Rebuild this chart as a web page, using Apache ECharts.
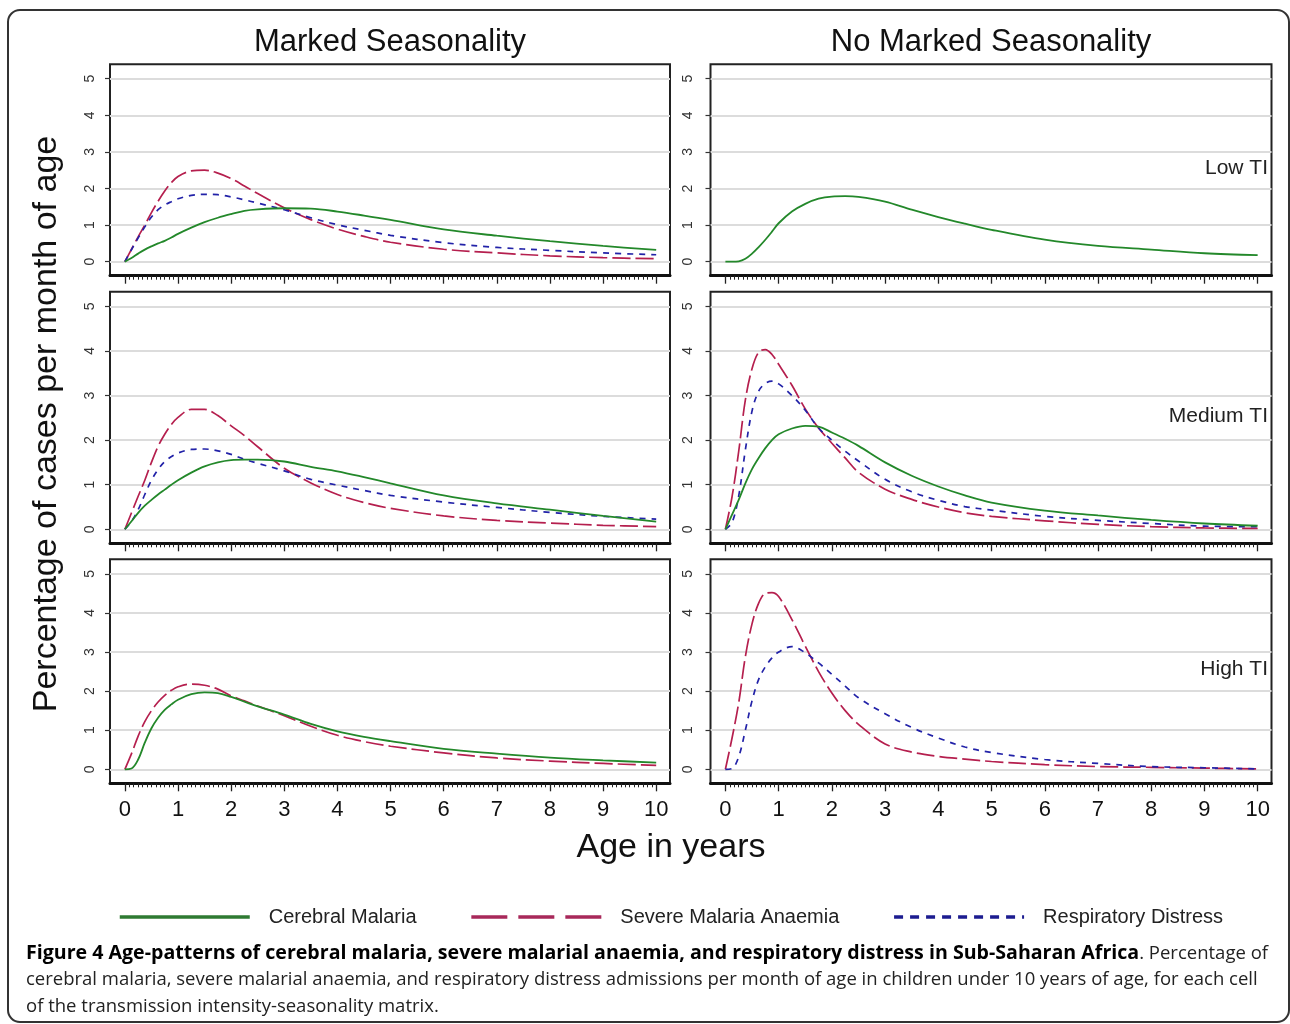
<!DOCTYPE html>
<html>
<head>
<meta charset="utf-8">
<script src="https://cdn.jsdelivr.net/npm/echarts@6/dist/echarts.min.js"></script>
<style>
  html, body { margin: 0; padding: 0; background: #fff; }
  #chart { width: 1290px; height: 1024px; }
</style>
</head>
<body>
<div id="chart"></div>
<script>
// ---------- data ----------
const ages = [0, 0.125, 0.25, 0.375, 0.5, 0.625, 0.75, 0.875, 1, 1.25, 1.5, 1.75, 2, 2.25, 2.5, 3, 3.5, 4, 4.5, 5, 6, 7, 8, 9, 10];

const cmMarkedLow  = [0, 0.1, 0.22, 0.33, 0.42, 0.5, 0.57, 0.66, 0.76, 0.93, 1.08, 1.2, 1.3, 1.39, 1.43, 1.46, 1.45, 1.37, 1.26, 1.14, 0.88, 0.71, 0.56, 0.43, 0.32];
const smaMarkedLow = [0, 0.34, 0.68, 1.0, 1.34, 1.65, 1.93, 2.16, 2.33, 2.48, 2.5, 2.42, 2.27, 2.07, 1.86, 1.47, 1.15, 0.89, 0.69, 0.53, 0.34, 0.24, 0.16, 0.11, 0.08];
const rdMarkedLow  = [0, 0.33, 0.65, 0.95, 1.22, 1.42, 1.55, 1.64, 1.72, 1.81, 1.84, 1.83, 1.77, 1.69, 1.6, 1.42, 1.2, 1.01, 0.86, 0.72, 0.52, 0.39, 0.31, 0.24, 0.19];
const cmNoneLow    = [0, 0, 0.01, 0.08, 0.22, 0.4, 0.6, 0.82, 1.05, 1.37, 1.58, 1.72, 1.78, 1.79, 1.77, 1.64, 1.42, 1.22, 1.04, 0.87, 0.6, 0.43, 0.33, 0.23, 0.18];

const cmMarkedMed  = [0, 0.18, 0.37, 0.53, 0.66, 0.78, 0.89, 1.0, 1.1, 1.27, 1.41, 1.5, 1.55, 1.56, 1.56, 1.52, 1.4, 1.3, 1.17, 1.03, 0.76, 0.58, 0.44, 0.3, 0.17];
const smaMarkedMed = [0, 0.37, 0.74, 1.1, 1.5, 1.86, 2.13, 2.35, 2.51, 2.69, 2.69, 2.55, 2.32, 2.1, 1.85, 1.37, 1.04, 0.78, 0.6, 0.47, 0.3, 0.2, 0.14, 0.09, 0.06];
const rdMarkedMed  = [0, 0.18, 0.44, 0.78, 1.1, 1.34, 1.52, 1.63, 1.71, 1.79, 1.8, 1.76, 1.68, 1.57, 1.48, 1.31, 1.12, 0.99, 0.87, 0.76, 0.61, 0.49, 0.38, 0.29, 0.23];
const cmNoneMed    = [0, 0.33, 0.66, 1.03, 1.35, 1.6, 1.82, 2.0, 2.13, 2.26, 2.32, 2.3, 2.17, 2.03, 1.87, 1.5, 1.2, 0.96, 0.76, 0.6, 0.42, 0.31, 0.21, 0.13, 0.08];
const smaNoneMed   = [0, 0.73, 1.75, 2.9, 3.6, 3.97, 4.03, 3.92, 3.7, 3.23, 2.7, 2.27, 1.93, 1.6, 1.28, 0.9, 0.67, 0.5, 0.37, 0.29, 0.19, 0.11, 0.06, 0.03, 0.02];
const rdNoneMed    = [0, 0.15, 0.75, 1.78, 2.65, 3.1, 3.27, 3.32, 3.26, 3.0, 2.67, 2.27, 2.0, 1.75, 1.53, 1.12, 0.84, 0.65, 0.51, 0.43, 0.29, 0.2, 0.13, 0.07, 0.06];

const cmMarkedHigh  = [0, 0.02, 0.25, 0.68, 1.05, 1.32, 1.52, 1.66, 1.78, 1.92, 1.97, 1.95, 1.85, 1.73, 1.61, 1.4, 1.16, 0.97, 0.83, 0.72, 0.52, 0.4, 0.3, 0.23, 0.17];
const smaMarkedHigh = [0, 0.4, 0.85, 1.22, 1.5, 1.72, 1.89, 2.02, 2.11, 2.18, 2.15, 2.05, 1.88, 1.75, 1.62, 1.37, 1.1, 0.87, 0.71, 0.59, 0.42, 0.29, 0.21, 0.15, 0.1];
const smaNoneHigh   = [0, 0.8, 1.7, 2.88, 3.72, 4.25, 4.5, 4.52, 4.42, 3.83, 3.15, 2.5, 1.95, 1.5, 1.15, 0.65, 0.44, 0.33, 0.26, 0.2, 0.12, 0.07, 0.05, 0.03, 0.01];
const rdNoneHigh    = [0, 0.02, 0.32, 1.0, 1.75, 2.3, 2.62, 2.85, 3.0, 3.14, 2.98, 2.72, 2.43, 2.13, 1.83, 1.42, 1.07, 0.8, 0.57, 0.43, 0.25, 0.15, 0.07, 0.04, 0.01];

const xTickValues = [0, 1, 2, 3, 4, 5, 6, 7, 8, 9, 10];
const yTickValues = [0, 1, 2, 3, 4, 5];
const columnTitles = ['Marked Seasonality', 'No Marked Seasonality'];
const rowTitles = ['Low TI', 'Medium TI', 'High TI'];
const seriesNames = ['Cerebral Malaria', 'Severe Malaria Anaemia', 'Respiratory Distress'];

// ---------- layout / style ----------
const FONT = '"Liberation Sans", Arial, sans-serif';
const colors = { cm: '#23882a', sma: '#b51f4e', rd: '#2222a8' };
const lineStyles = {
  cm:  { color: colors.cm,  width: 1.8, type: 'solid' },
  sma: { color: colors.sma, width: 1.7, type: [18, 5] },
  rd:  { color: colors.rd,  width: 1.7, type: [6, 6] }
};
const nameOf = { cm: seriesNames[0], sma: seriesNames[1], rd: seriesNames[2] };

const colLeft = [110, 710.5];
const colWidth = [560, 561];
const rowTop = [64.3, 291.7, 559.3];
const rowHeight = [211.4, 251.6, 224];
const rowYMin = [-0.383, -0.314, -0.358];
const rowYMax = [5.393, 5.327, 5.371];
const xMin = -0.28, xMax = 10.26;
const labelMarginY = [13, 15.5];

const monthTicks = [];
for (let m = 0; m <= 120; m++) monthTicks.push(m / 12);

// panels: [row, col, [[key, values], ...]]
const panels = [
  [0, 0, [['cm', cmMarkedLow], ['sma', smaMarkedLow], ['rd', rdMarkedLow]]],
  [0, 1, [['cm', cmNoneLow]]],
  [1, 0, [['cm', cmMarkedMed], ['sma', smaMarkedMed], ['rd', rdMarkedMed]]],
  [1, 1, [['cm', cmNoneMed], ['sma', smaNoneMed], ['rd', rdNoneMed]]],
  [2, 0, [['cm', cmMarkedHigh], ['sma', smaMarkedHigh]]],
  [2, 1, [['sma', smaNoneHigh], ['rd', rdNoneHigh]]]
];

const grid = [], xAxis = [], yAxis = [], series = [];
panels.forEach(([r, c, lines], g) => {
  grid.push({
    left: colLeft[c], top: rowTop[r], width: colWidth[c], height: rowHeight[r],
    show: true, borderColor: '#222', borderWidth: 2, backgroundColor: 'transparent'
  });
  // minor (monthly) ticks
  xAxis.push({
    type: 'value', gridIndex: g, min: xMin, max: xMax, position: 'bottom',
    axisLine: { show: false, onZero: false },
    axisTick: { show: true, length: 4, customValues: monthTicks, lineStyle: { color: '#222', width: 1 } },
    axisLabel: { show: false }, splitLine: { show: false }
  });
  // major ticks + labels
  xAxis.push({
    type: 'value', gridIndex: g, min: xMin, max: xMax, position: 'bottom',
    axisLine: { show: true, onZero: false, lineStyle: { color: '#111', width: 3 } },
    axisTick: { show: true, length: 8, customValues: xTickValues, lineStyle: { color: '#222', width: 1.3 } },
    axisLabel: { show: r === 2, customValues: xTickValues, fontSize: 22, fontFamily: FONT, color: '#111', margin: 16 },
    splitLine: { show: false }
  });
  yAxis.push({
    type: 'value', gridIndex: g, min: rowYMin[r], max: rowYMax[r], position: 'left',
    axisLine: { show: false, onZero: false },
    axisTick: { show: true, length: 5, customValues: yTickValues, lineStyle: { color: '#333', width: 1.2 } },
    axisLabel: { show: true, customValues: yTickValues, rotate: 90, fontSize: 14, fontFamily: FONT, color: '#333', margin: labelMarginY[c] },
    splitLine: { show: true, lineStyle: { color: '#dcdcdc', width: 2 } }
  });
  lines.forEach(([key, vals]) => {
    series.push({
      type: 'line', name: nameOf[key], xAxisIndex: 2 * g + 1, yAxisIndex: g,
      data: ages.map((a, i) => [a, vals[i]]),
      symbol: 'none', smooth: 0.35, lineStyle: lineStyles[key], itemStyle: { color: colors[key] },
      silent: true, animation: false, z: key === 'cm' ? 3 : 2
    });
  });
});

const graphic = [
  { type: 'rect', shape: { x: 8, y: 10, width: 1281, height: 1012, r: 12 }, style: { fill: 'none', stroke: '#333', lineWidth: 2 }, silent: true },
  { type: 'text', x: 390, y: 42, style: { text: columnTitles[0], font: '31px ' + FONT, fill: '#111', align: 'center', verticalAlign: 'middle' } },
  { type: 'text', x: 991, y: 42, style: { text: columnTitles[1], font: '31px ' + FONT, fill: '#111', align: 'center', verticalAlign: 'middle' } },
  { type: 'text', x: 1268, y: 168, style: { text: rowTitles[0], font: '21px ' + FONT, fill: '#222', align: 'right', verticalAlign: 'middle' } },
  { type: 'text', x: 1268, y: 416, style: { text: rowTitles[1], font: '21px ' + FONT, fill: '#222', align: 'right', verticalAlign: 'middle' } },
  { type: 'text', x: 1268, y: 669, style: { text: rowTitles[2], font: '21px ' + FONT, fill: '#222', align: 'right', verticalAlign: 'middle' } },
  { type: 'text', x: 47, y: 424, rotation: Math.PI / 2, style: { text: 'Percentage of cases per month of age', font: '34px ' + FONT, fill: '#111', align: 'center', verticalAlign: 'middle' } },
  { type: 'text', x: 671, y: 848, style: { text: 'Age in years', font: '34px ' + FONT, fill: '#111', align: 'center', verticalAlign: 'middle' } },
  { type: 'text', x: 26, y: 940, style: {
      text: '{b|Figure 4 Age-patterns of cerebral malaria, severe malarial anaemia, and respiratory distress in Sub-Saharan Africa}{n|. Percentage of}\n' +
            '{n|cerebral malaria, severe malarial anaemia, and respiratory distress admissions per month of age in children under 10 years of age, for each cell}\n' +
            '{n|of the transmission intensity-seasonality matrix.}',
      align: 'left', verticalAlign: 'top',
      rich: {
        b: { font: 'bold 19.6px "Open Sans", sans-serif', fill: '#000', lineHeight: 26.5 },
        n: { font: '18.5px "Open Sans", sans-serif', fill: '#222', lineHeight: 26.5 }
      }
  } }
];

const option = {
  animation: false,
  backgroundColor: '#fff',
  grid, xAxis, yAxis, series, graphic,
  legend: {
    left: 118, top: 907, padding: 0, itemWidth: 130, itemHeight: 18, itemGap: 53,
    selectedMode: false,
    textStyle: { fontSize: 20, fontFamily: FONT, color: '#222', padding: [0, 0, 0, 14] },
    data: [
      { name: seriesNames[0], itemStyle: { opacity: 0 }, lineStyle: { width: 3.5, type: 'solid', color: '#2e7a32' } },
      { name: seriesNames[1], itemStyle: { opacity: 0 }, lineStyle: { width: 3.5, type: [36, 11], color: '#a8285a' } },
      { name: seriesNames[2], itemStyle: { opacity: 0 }, lineStyle: { width: 3.5, type: [9, 7], color: '#1c1c90' } }
    ]
  }
};

const chart = echarts.init(document.getElementById('chart'), null, { renderer: 'canvas' });
chart.setOption(option);
</script>
</body>
</html>
